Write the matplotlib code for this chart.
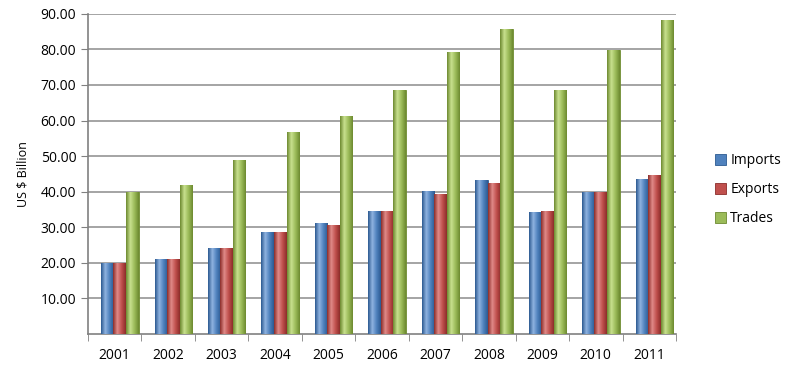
import numpy as np
import matplotlib.pyplot as plt
from matplotlib.colors import LinearSegmentedColormap

# dados
anos = ["2001", "2002", "2003", "2004", "2005", "2006", "2007", "2008", "2009", "2010", "2011"]
imports = [20.0, 21.0, 24.2, 28.5, 31.2, 34.5, 40.3, 43.3, 34.3, 40.0, 43.4]
exports = [19.8, 21.0, 24.0, 28.7, 30.6, 34.5, 39.3, 42.5, 34.5, 39.8, 44.8]
trades = [39.8, 41.8, 48.8, 56.7, 61.3, 68.5, 79.3, 85.7, 68.5, 79.9, 88.2]

series = [("Imports", imports, "#4f81bd", "#2c5a91", "#8fb3e0"),
          ("Exports", exports, "#c0504d", "#8c2d2a", "#e08a88"),
          ("Trades", trades, "#9bbb59", "#6d8a30", "#c8e08e")]

plt.rcParams['font.family'] = ['Open Sans', 'DejaVu Sans']

fig = plt.figure(figsize=(7.86, 3.75), dpi=100)
ax = fig.add_axes([0.112, 0.11, 0.748, 0.853])

x = np.arange(len(anos))
largura = 0.23
offsets = [-0.14, 0.09, 0.33]

for (nome, vals, cor, escura, clara), off in zip(series, offsets):
    barras = ax.bar(x + off, vals, largura, color=cor, edgecolor=escura,
                    linewidth=0.6, label=nome, zorder=3)
    # sombreado tipo cilindro
    cmap = LinearSegmentedColormap.from_list(nome, [escura, clara, cor, escura])
    grad = np.linspace(0, 1, 64).reshape(1, -1)
    for b in barras:
        x0, y0 = b.get_x(), b.get_y()
        w, h = b.get_width(), b.get_height()
        im = ax.imshow(grad, cmap=cmap, extent=[x0, x0 + w, y0, y0 + h],
                       aspect='auto', zorder=3.5)
        im.set_clip_path(b)

ax.set_xlim(-0.5, len(anos) - 0.5)
ax.set_ylim(0, 90)
ax.set_yticks(np.arange(10, 91, 10))
ax.set_yticklabels([f"{v:.2f}" for v in range(10, 91, 10)], fontsize=10)
ax.set_xticks(x)
ax.set_xticklabels(anos, fontsize=10)
ax.set_xticks(np.arange(-0.5, len(anos), 1), minor=True)
ax.tick_params(axis='x', which='major', length=0, pad=10)
ax.tick_params(axis='x', which='minor', length=5, color="#808080")
ax.tick_params(axis='y', length=5, color="#808080")

ax.grid(axis='y', color="#8c8c8c", linewidth=1.1, zorder=0)
for lado in ['top', 'right']:
    ax.spines[lado].set_visible(False)
ax.spines['left'].set_color("#808080")
ax.spines['bottom'].set_color("#808080")
ax.spines['left'].set_linewidth(1.2)
ax.spines['bottom'].set_linewidth(1.2)

ax.set_ylabel("US $ Billion", fontsize=9, labelpad=8)

ax.legend(loc='center left', bbox_to_anchor=(1.045, 0.45), frameon=False,
          fontsize=10, handlelength=0.8, handleheight=0.8, labelspacing=1.0,
          handletextpad=0.3)

fig.savefig("out.png", dpi=100)
